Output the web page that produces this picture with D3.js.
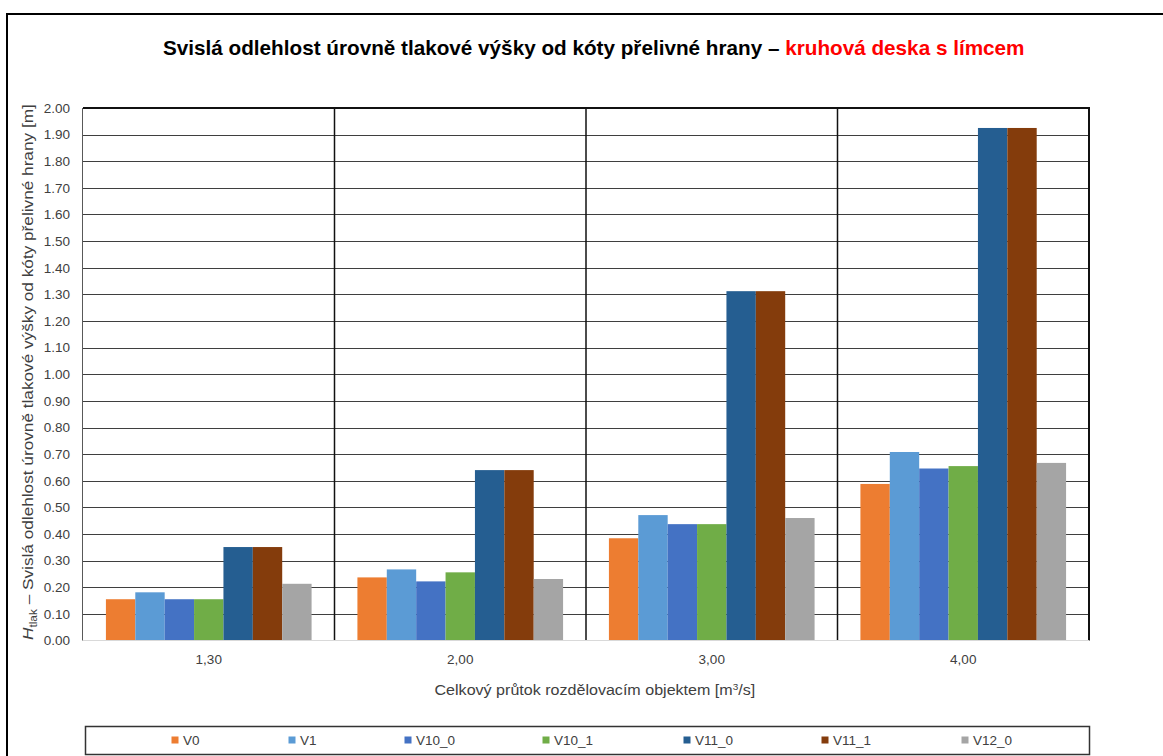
<!DOCTYPE html>
<html>
<head>
<meta charset="utf-8">
<script src="https://cdn.jsdelivr.net/npm/d3@7"></script>
<style>
  html, body { margin: 0; padding: 0; background: #fff; }
  svg { display: block; }
</style>
</head>
<body>
<svg id="chart" width="1163" height="756"></svg>
<script>
// ---- data ----
const categories = ["1,30", "2,00", "3,00", "4,00"];
const seriesNames = ["V0", "V1", "V10_0", "V10_1", "V11_0", "V11_1", "V12_0"];
const seriesColors = ["#ED7D31", "#5B9BD5", "#4472C4", "#70AD47", "#255E91", "#843C0C", "#A5A5A5"];
const V0    = [0.155, 0.237, 0.384, 0.588];
const V1    = [0.181, 0.267, 0.471, 0.708];
const V10_0 = [0.155, 0.222, 0.437, 0.646];
const V10_1 = [0.155, 0.256, 0.437, 0.655];
const V11_0 = [0.351, 0.640, 1.312, 1.925];
const V11_1 = [0.351, 0.640, 1.312, 1.925];
const V12_0 = [0.213, 0.231, 0.460, 0.667];
const seriesValues = [V0, V1, V10_0, V10_1, V11_0, V11_1, V12_0];
const yTicks = d3.range(0, 2.0001, 0.1);
const titleBlack = "Svislá odlehlost úrovně tlakové výšky od kóty přelivné hrany – ";
const titleRed = "kruhová deska s límcem";
const xTitle = "Celkový průtok rozdělovacím objektem [m";
const yTitleRest = " – Svislá odlehlost úrovně tlakové výšky od kóty přelivné hrany [m]";

// ---- layout ----
const svg = d3.select("#chart");
const FONT = "'Liberation Sans', Arial, sans-serif";
const plot = { left: 83, right: 1089, top: 108, bottom: 640.5 };

// outer frame
svg.append("path")
  .attr("d", `M7,760 L7,14 L1170,14`)
  .attr("fill", "none").attr("stroke", "#000").attr("stroke-width", 2);

const x0 = d3.scaleBand().domain(categories).range([plot.left, plot.right]).padding(0);
const x1 = d3.scaleBand().domain(seriesNames).range([0, x0.bandwidth()]).paddingInner(0).paddingOuter(0.78);
const y = d3.scaleLinear().domain([0, 2]).range([plot.bottom, plot.top]);

// horizontal gridlines
svg.append("g").selectAll("line").data(yTicks.slice(1, -1)).join("line")
  .attr("x1", plot.left).attr("x2", plot.right)
  .attr("y1", d => Math.round(y(d)) + 0.5).attr("y2", d => Math.round(y(d)) + 0.5)
  .attr("stroke", "#3f3f3f").attr("stroke-width", 1);

// vertical category separators
svg.append("g").selectAll("line").data(categories.slice(1)).join("line")
  .attr("x1", d => x0(d)).attr("x2", d => x0(d))
  .attr("y1", plot.top).attr("y2", plot.bottom)
  .attr("stroke", "#111").attr("stroke-width", 1.5);

// bars
const g = svg.append("g");
categories.forEach((c, ci) => {
  g.append("g").attr("transform", `translate(${x0(c)},0)`)
    .selectAll("rect").data(seriesNames).join("rect")
    .attr("x", s => x1(s))
    .attr("width", x1.bandwidth())
    .attr("y", (s, si) => y(seriesValues[si][ci]))
    .attr("height", (s, si) => y(0) - y(seriesValues[si][ci]))
    .attr("fill", (s, si) => seriesColors[si]);
});

// plot borders
svg.append("line").attr("x1", plot.left).attr("x2", plot.right + 1).attr("y1", plot.top).attr("y2", plot.top)
  .attr("stroke", "#111").attr("stroke-width", 2);
svg.append("line").attr("x1", plot.right).attr("x2", plot.right).attr("y1", plot.top).attr("y2", plot.bottom)
  .attr("stroke", "#111").attr("stroke-width", 2);
svg.append("line").attr("x1", plot.left).attr("x2", plot.right).attr("y1", plot.bottom).attr("y2", plot.bottom)
  .attr("stroke", "#d9d9d9").attr("stroke-width", 1);
svg.append("line").attr("x1", plot.left - 0.5).attr("x2", plot.left - 0.5).attr("y1", plot.top).attr("y2", plot.bottom)
  .attr("stroke", "#595959").attr("stroke-width", 1);

// y axis ticks labels
const yAxis = d3.axisLeft(y).tickValues(yTicks).tickFormat(d3.format(".2f")).tickSize(0).tickPadding(13);
const ya = svg.append("g").attr("transform", `translate(${plot.left},0)`).call(yAxis);
ya.select(".domain").remove();
ya.selectAll("text").attr("font-family", FONT).attr("font-size", 13.5).attr("fill", "#404040");

// x axis labels
const xAxis = d3.axisBottom(x0).tickSize(0).tickPadding(14);
const xa = svg.append("g").attr("transform", `translate(0,${plot.bottom})`).call(xAxis);
xa.select(".domain").remove();
xa.selectAll("text").attr("font-family", FONT).attr("font-size", 13.5).attr("fill", "#404040");

// fit helper: horizontally scale a text group to a target width around a center
function fitX(sel, cx, targetW) {
  const b = sel.node().getBBox();
  const s = targetW / b.width;
  sel.attr("transform", `translate(${cx},0) scale(${s},1) translate(${-(b.x + b.width / 2)},0)`);
}

// title
const tg = svg.append("g");
const tt = tg.append("text").attr("x", 0).attr("y", 55)
  .attr("font-family", FONT).attr("font-size", 20).attr("font-weight", "bold");
tt.append("tspan").attr("fill", "#000").text(titleBlack);
tt.append("tspan").attr("fill", "#ff0000").text(titleRed);
fitX(tg, 594, 862);

// x axis title
const xg = svg.append("g");
const xt = xg.append("text").attr("x", 0).attr("y", 695)
  .attr("font-family", FONT).attr("font-size", 14.5).attr("fill", "#404040");
xt.append("tspan").text(xTitle);
xt.append("tspan").attr("font-size", 9).attr("dy", -5).text("3");
xt.append("tspan").attr("dy", 5).text("/s]");
fitX(xg, 595, 321);

// y axis title (rotated)
const yg0 = svg.append("g").attr("transform", `translate(33,372) rotate(-90)`);
const yg = yg0.append("g");
const yt = yg.append("text").attr("x", 0).attr("y", 0)
  .attr("font-family", FONT).attr("font-size", 14.5).attr("fill", "#404040");
yt.append("tspan").attr("font-style", "italic").text("H");
yt.append("tspan").attr("font-size", 10).attr("dy", 4).text("tlak");
yt.append("tspan").attr("dy", -4).text(yTitleRest);
fitX(yg, 0, 536);

// legend
svg.append("rect").attr("x", 85.5).attr("y", 726.5).attr("width", 1004).attr("height", 28)
  .attr("fill", "#fff").attr("stroke", "#333").attr("stroke-width", 1.5);
const legendX = [175, 292, 408, 546, 687, 825, 965];
const lg = svg.append("g").selectAll("g").data(seriesNames).join("g")
  .attr("transform", (d, i) => `translate(${legendX[i]},740)`);
lg.append("rect").attr("x", -3.5).attr("y", -3.5).attr("width", 7).attr("height", 7)
  .attr("fill", (d, i) => seriesColors[i]);
lg.append("text").attr("x", 8).attr("y", 5)
  .attr("font-family", FONT).attr("font-size", 13.5).attr("fill", "#404040").text(d => d);
</script>
</body>
</html>
